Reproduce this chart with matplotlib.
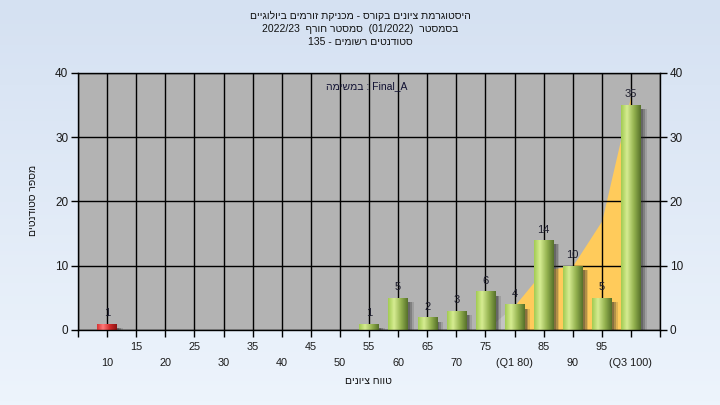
import re
import numpy as np
import matplotlib
matplotlib.use("Agg")
import matplotlib.pyplot as plt
from matplotlib.colors import LinearSegmentedColormap

plt.rcParams['font.family'] = ['Liberation Sans', 'DejaVu Sans']

# data
grades = [10, 15, 20, 25, 30, 35, 40, 45, 50, 55, 60, 65, 70, 75, 80, 85, 90, 95, 100]
counts = [1, 0, 0, 0, 0, 0, 0, 0, 0, 1, 5, 2, 3, 6, 4, 14, 10, 5, 35]
upper_labels = ['15', '25', '35', '45', '55', '65', '75', '85', '95']
lower_labels = ['10', '20', '30', '40', '50', '60', '70', '(Q1 80)', '90', '(Q3 100)']
area_x_out = [75, 80]
area_y_out = [0, 3.8]
area_x_in = [80, 85, 90, 95, 100]
area_y_in = [3.8, 9.3, 10, 17, 36.5]

title_lines = ['היסטוגרמת ציונים בקורס - מכניקת זורמים ביולוגיים',
               'בסמסטר  (01/2022)  סמסטר חורף  2022/23',
               'סטודנטים רשומים - 135']
task_text = 'Final_A : במשימה'
xlabel = 'טווח ציונים'
ylabel = 'מספר סטודנטים'


def rtl(s):
    # crude bidi: reverse the string, keep latin / digit runs readable
    parts = re.findall(r'[A-Za-z0-9_/.]+|.', s)[::-1]
    mirror = {'(': ')', ')': '('}
    return ''.join(mirror.get(p, p) for p in parts)


fig = plt.figure(figsize=(7.2, 4.05), dpi=100)

# background gradient
bg = fig.add_axes([0, 0, 1, 1], zorder=-10)
bg_cmap = LinearSegmentedColormap.from_list('bg', ['#edf4fc', '#d5e1f2'])
bg.imshow(np.linspace(0, 1, 100).reshape(-1, 1)[::-1], cmap=bg_cmap, aspect='auto', extent=[0, 1, 0, 1])
bg.axis('off')

ax = fig.add_axes([78 / 720, 75 / 405, 582 / 720, 257.3 / 405])
ax.set_facecolor('#b3b3b3')
ax.set_axisbelow(True)

# distribution area
ax.fill_between(area_x_out, area_y_out, color='#c3c3c3', zorder=0.3, lw=0)
ax.fill_between(area_x_in, area_y_in, color='#ffcb5b', zorder=0.3, lw=0)

# shadows
w = 3.3
for off, a in [(0.45, 0.3), (0.75, 0.25), (1.05, 0.15)]:
    ax.bar(np.array(grades) + off, np.clip(np.array(counts) - 0.7, 0, None), w,
           color='#2a2a2a', alpha=a, zorder=2, lw=0)

green = LinearSegmentedColormap.from_list('g', [(0, '#a2cb52'), (0.3, '#d6ec92'),
                                                (0.65, '#95b350'), (1, '#56712a')])
red = LinearSegmentedColormap.from_list('r', [(0, '#d83434'), (0.3, '#ff7a7a'),
                                              (0.65, '#d02a2a'), (1, '#8c1414')])
grad = np.linspace(0, 1, 64).reshape(1, -1)
bars = ax.bar(grades, counts, w, color='#9fc850', zorder=3, lw=0)
for i, b in enumerate(bars):
    if counts[i] == 0:
        continue
    cm = red if i == 0 else green
    im = ax.imshow(grad, cmap=cm, aspect='auto', zorder=3.5,
                   extent=[b.get_x(), b.get_x() + w, 0, counts[i]])
    im.set_clip_path(b)
    ax.annotate(str(counts[i]), (grades[i], counts[i]), xytext=(0, 7.5),
                textcoords='offset points', ha='center', va='center',
                fontsize=8, color='#1c1c2c', zorder=5)

ax.set_xlim(5, 105)
ax.set_ylim(0, 40)
ax.set_aspect('auto')

ax.set_xticks([5] + [15, 25, 35, 45, 55, 65, 75, 85, 95] + [105])
ax.set_xticklabels([''] + upper_labels + [''])
ax.set_xticks(list(range(10, 101, 10)), minor=True)
ax.set_xticklabels(lower_labels, minor=True)
ax.tick_params(axis='x', which='both', length=5, width=1, color='black',
               labelsize=7.8, labelcolor='#1a1a1a')
ax.tick_params(axis='x', which='major', pad=3.5)
ax.tick_params(axis='x', which='minor', pad=15.5)

ax.set_yticks([0, 10, 20, 30, 40])
ax.tick_params(axis='y', which='both', length=5, width=1, labelsize=8.5,
               labelcolor='#1a1a1a', left=True, right=True,
               labelleft=True, labelright=True, pad=2)

ax.grid(True, which='both', color='black', lw=1)
for sp in ax.spines.values():
    sp.set_color('black')
    sp.set_linewidth(1)
    sp.set_zorder(6)

# texts
for k, line in enumerate(title_lines):
    fig.text(0.5, 1 - (16 + 13 * k) / 405, rtl(line), ha='center', va='center',
             fontsize=7.5, color='#111111')
fig.text(367 / 720, 1 - 86 / 405, rtl(task_text), ha='center', va='center',
         fontsize=7.5, color='#111133', zorder=10)
fig.text(368 / 720, 1 - 381 / 405, rtl(xlabel), ha='center', va='center',
         fontsize=7.5, color='#111111')
fig.text(33 / 720, 1 - 200 / 405, rtl(ylabel), ha='center', va='center',
         rotation=90, fontsize=7.5, color='#111111')

fig.savefig('out.png', dpi=100)
